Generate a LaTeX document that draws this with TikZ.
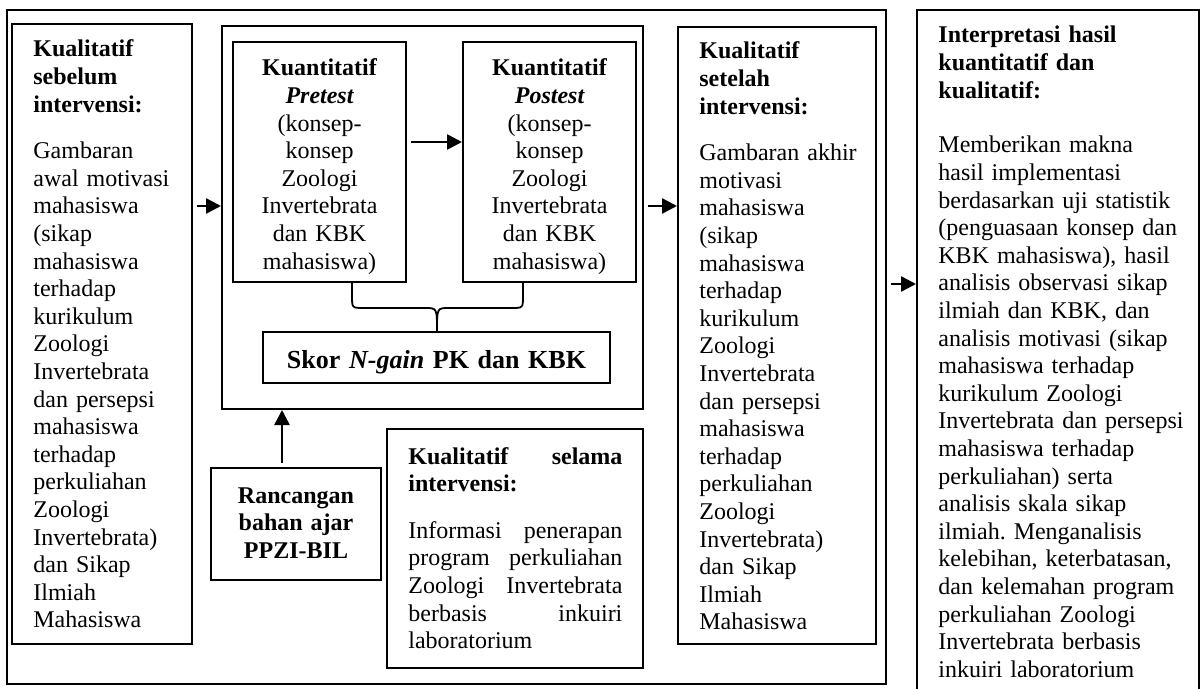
\documentclass[tikz,border=0pt]{standalone}
\usepackage{fontspec}
\setmainfont{Liberation Serif}
\frenchspacing
\usetikzlibrary{arrows.meta,fit}
\begin{document}
\begin{tikzpicture}[x=0.5pt,y=-0.5pt,
  box/.style={draw,line width=1pt,inner sep=0pt},
  txt/.style={inner sep=0pt,anchor=base west,align=left,text width=#1,
    font=\fontsize{12pt}{13.8pt}\selectfont},
  ctxt/.style={inner sep=0pt,anchor=base,align=center,text width=#1,
    font=\fontsize{12pt}{13.8pt}\selectfont},
  arr/.style={line width=1.3pt,-{Triangle[length=7.5pt,width=7.5pt]},shorten <=2pt},
  brace/.style={line width=0.9pt}]
\clip (0,0) rectangle (1203,689);
\node[box,fit={(7,10) (886,684)}] (outer) {};
\node[box,fit={(12,24) (192,644)}] (sebelum) {};
\node[box,fit={(222,26) (643,409)}] (mid) {};
\node[box,fit={(233,42) (406,282)}] (pre) {};
\node[box,fit={(463,42) (636,282)}] (post) {};
\node[box,fit={(263,332) (610,383)}] (skor) {};
\node[box,fit={(211,468) (381,580)}] (ranc) {};
\node[box,fit={(387,429) (643,668)}] (selama) {};
\node[box,fit={(678,27) (876,644)}] (setelah) {};
\node[box,fit={(917,10) (1199,720)}] (interp) {};

\node[txt=85pt] (sebelumtxt) at (33,57) {\bfseries Kualitatif\\ sebelum\\ intervensi:\\[9.5pt]\mdseries
  Gambaran\\ awal motivasi\\ mahasiswa\\ (sikap\\ mahasiswa\\ terhadap\\ kurikulum\\ Zoologi\\ Invertebrata\\
  dan persepsi\\ mahasiswa\\ terhadap\\ perkuliahan\\ Zoologi\\ Invertebrata)\\ dan Sikap\\ Ilmiah\\ Mahasiswa};
\node[ctxt=80pt] (pretxt) at (319.5,76) {\bfseries Kuantitatif\\ \itshape Pretest\\ \mdseries\upshape (konsep-\\ konsep\\ Zoologi\\ Invertebrata\\ dan KBK\\ mahasiswa)};
\node[ctxt=80pt] (posttxt) at (549.5,76) {\bfseries Kuantitatif\\ \itshape Postest\\ \mdseries\upshape (konsep-\\ konsep\\ Zoologi\\ Invertebrata\\ dan KBK\\ mahasiswa)};
\node[ctxt=200pt,font=\fontsize{13pt}{15pt}\selectfont\bfseries] (skortxt) at (436.5,368) {Skor \textit{N-gain} PK dan KBK};
\node[ctxt=80pt] (ranctxt) at (296,503) {\bfseries Rancangan\\ bahan ajar\\ PPZI-BIL};
\node[txt=107pt,align=justify] (selamatxt) at (408,464) {\bfseries Kualitatif selama\linebreak intervensi:\\[9.5pt]\mdseries
  Informasi penerapan\linebreak program perkuliahan\linebreak Zoologi Invertebrata\linebreak berbasis inkuiri\linebreak laboratorium};
\node[txt=90pt] (setelahtxt) at (699,59) {\bfseries Kualitatif\\ setelah\\ intervensi:\\[9.5pt]\mdseries
  Gambaran akhir\\ motivasi\\ mahasiswa\\ (sikap\\ mahasiswa\\ terhadap\\ kurikulum\\ Zoologi\\ Invertebrata\\
  dan persepsi\\ mahasiswa\\ terhadap\\ perkuliahan\\ Zoologi\\ Invertebrata)\\ dan Sikap\\ Ilmiah\\ Mahasiswa};
\node[txt=130pt] (interptxt) at (938,43) {\bfseries Interpretasi hasil\\ kuantitatif dan\\ kualitatif:\\[13.6pt]\mdseries
  Memberikan makna\\ hasil implementasi\\ berdasarkan uji statistik\\ (penguasaan konsep dan\\ KBK mahasiswa), hasil\\
  analisis observasi sikap\\ ilmiah dan KBK, dan\\ analisis motivasi (sikap\\ mahasiswa terhadap\\ kurikulum Zoologi\\
  Invertebrata dan persepsi\\ mahasiswa terhadap\\ perkuliahan) serta\\ analisis skala sikap\\ ilmiah. Menganalisis\\
  kelebihan, keterbatasan,\\ dan kelemahan program\\ perkuliahan Zoologi\\ Invertebrata berbasis\\ inkuiri laboratorium};

\foreach \a/\b/\y in {sebelum/mid/206, pre/post/142, mid/setelah/206, outer/interp/284}
  \draw[arr] (\a.east |- 0,\y) -- (\b.west |- 0,\y);
\draw[arr] (ranc.north -| 282,0) -- (mid.south -| 282,0);
\draw[brace] (pre.south -| 352,0) -- (352,296) .. controls (352,308) .. (364,308) -- (425,308)
    .. controls (437,308) .. (437,331)
  (post.south -| 523,0) -- (523,296) .. controls (523,308) .. (511,308) -- (449,308)
    .. controls (437,308) .. (437,331);
\end{tikzpicture}
\end{document}
